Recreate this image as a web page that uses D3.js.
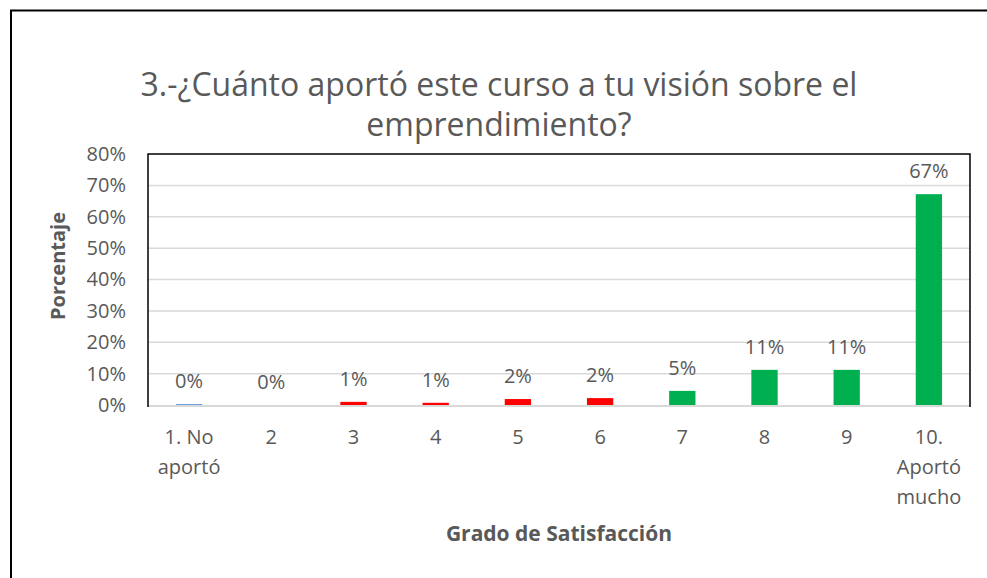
<!DOCTYPE html>
<html>
<head>
<meta charset="utf-8">
<script src="https://cdn.jsdelivr.net/npm/d3@7"></script>
<style>
  html, body { margin: 0; background: #fff; overflow: hidden; }
  svg { display: block; overflow: hidden; }
  text { font-family: "Open Sans", sans-serif; fill: #595959; }
</style>
</head>
<body>
<div id="chart"></div>
<script>
// datos del grafico
const categorias = ["1. No|aportó", "2", "3", "4", "5", "6", "7", "8", "9", "10.|Aportó|mucho"];
const valores = [0.003, 0, 0.010, 0.007, 0.019, 0.022, 0.045, 0.112, 0.112, 0.672];
const etiquetas = ["0%", "0%", "1%", "1%", "2%", "2%", "5%", "11%", "11%", "67%"];
const colores = ["#5B9BD5", "#5B9BD5", "#FF0000", "#FF0000", "#FF0000", "#FF0000", "#00B050", "#00B050", "#00B050", "#00B050"];
const ticksY = [0, 0.1, 0.2, 0.3, 0.4, 0.5, 0.6, 0.7, 0.8];
const tituloLineas = ["3.-¿Cuánto aportó este curso a tu visión sobre el", "emprendimiento?"];

const W = 987, H = 578;
const margin = {top: 154, right: 17, bottom: 173, left: 148};
const width = W - margin.left - margin.right;
const height = H - margin.top - margin.bottom;

const svg = d3.select("#chart").append("svg")
  .attr("width", W).attr("height", H);

// marco exterior (solo arriba e izquierda quedan dentro de la imagen)
svg.append("path")
  .attr("d", "M11," + H + "V10.5H" + W)
  .attr("fill", "none").attr("stroke", "#000").attr("stroke-width", 2);

// titulo
svg.append("text")
  .attr("text-anchor", "middle")
  .attr("x", 499).attr("y", 96)
  .style("font-size", "32px")
  .selectAll("tspan").data(tituloLineas).enter().append("tspan")
  .attr("x", 499).attr("dy", (d, i) => i ? 40 : 0)
  .text(d => d);

const g = svg.append("g")
  .attr("transform", "translate(" + margin.left + "," + margin.top + ")");

const x = d3.scaleBand().domain(categorias).range([0, width]).padding(0);
const y = d3.scaleLinear().domain([0, 0.8]).range([height, 0]);

// grilla
g.selectAll(".grid").data(ticksY.slice(1, -1)).enter().append("line")
  .attr("x1", 0).attr("x2", width)
  .attr("y1", d => y(d)).attr("y2", d => y(d))
  .attr("stroke", "#d9d9d9").attr("stroke-width", 1.5);

// eje x (linea base, debajo de las barras)
g.append("line")
  .attr("x1", 0).attr("x2", width).attr("y1", height + 1).attr("y2", height + 1)
  .attr("stroke", "#d9d9d9").attr("stroke-width", 2);

// eje y
const ejeY = g.append("g")
  .call(d3.axisLeft(y).tickValues(ticksY).tickFormat(d3.format(".0%")).tickSize(0).tickPadding(22));
ejeY.select(".domain").remove();
ejeY.selectAll("text").style("font-size", "20px").attr("fill", "#595959");

// barras
const bw = x.bandwidth() * 0.32;
g.selectAll(".barra").data(valores).enter().append("rect")
  .attr("x", (d, i) => x(categorias[i]) + (x.bandwidth() - bw) / 2)
  .attr("y", d => y(d))
  .attr("width", bw)
  .attr("height", d => height - y(d))
  .attr("fill", (d, i) => colores[i]);

// etiquetas de datos
g.selectAll(".etq").data(valores).enter().append("text")
  .attr("text-anchor", "middle")
  .attr("x", (d, i) => x(categorias[i]) + x.bandwidth() / 2)
  .attr("y", d => y(d) - 16)
  .style("font-size", "20px")
  .text((d, i) => etiquetas[i]);

const xt = g.selectAll(".xt").data(categorias).enter().append("text")
  .attr("text-anchor", "middle")
  .attr("x", d => x(d) + x.bandwidth() / 2)
  .attr("y", height + 39)
  .style("font-size", "20px");
xt.selectAll("tspan").data(d => d.split("|")).enter().append("tspan")
  .attr("x", function () { return d3.select(this.parentNode).attr("x"); })
  .attr("dy", (d, i) => i ? 30 : 0)
  .text(d => d);

// borde del area de trazado (izq, arriba, der)
g.append("path")
  .attr("d", "M0," + (height + 2) + "V0H" + width + "V" + (height + 2))
  .attr("fill", "none").attr("stroke", "#000").attr("stroke-width", 1.5);

// titulos de ejes
svg.append("text")
  .attr("transform", "translate(65,266) rotate(-90)")
  .attr("text-anchor", "middle")
  .style("font-size", "20px").style("font-weight", "bold")
  .text("Porcentaje");

svg.append("text")
  .attr("text-anchor", "middle")
  .attr("x", 559).attr("y", 541)
  .style("font-size", "21px").style("font-weight", "bold")
  .text("Grado de Satisfacción");
</script>
</body>
</html>
